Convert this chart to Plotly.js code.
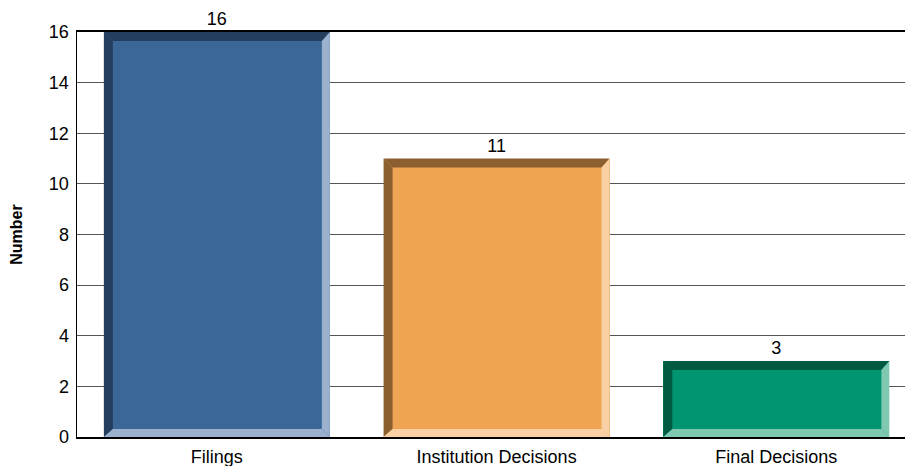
<!DOCTYPE html>
<html>
<head>
<meta charset="utf-8">
<script src="https://cdn.plot.ly/plotly-3.0.1.min.js"></script>
<style>html,body{margin:0;padding:0;background:#fff;}#chart{width:905px;height:466px;}</style>
</head>
<body>
<div id="chart"></div>
<script>
const categories = ["Filings", "Institution Decisions", "Final Decisions"];
const values = [16, 11, 3];
const faceColors = ["#3B6797", "#EFA453", "#009471"];
const darkColors = ["#243E5E", "#8C5F30", "#005A42"];
const lightColors = ["#9BB1CD", "#F9D0A3", "#7FC9B2"];
const yTicks = [0, 2, 4, 6, 8, 10, 12, 14, 16];

const W = 905, H = 466;
const margin = {l: 77, r: 0, t: 32, b: 29};
const xRange = [-0.5, 2.46];
const yRange = [0, 16];
const barWidth = 0.808;

// bevel sizes in pixels, converted to data units
const pxX = (xRange[1] - xRange[0]) / (W - margin.l - margin.r);
const pxY = (yRange[1] - yRange[0]) / (H - margin.t - margin.b);
const bl = 9 * pxX, br = 8 * pxX, bt = 9 * pxY, bb = 8 * pxY;

const shapes = [];
values.forEach((v, i) => {
  const x0 = i - barWidth / 2, x1 = i + barWidth / 2;
  const poly = (pts, color) => shapes.push({
    type: "path", xref: "x", yref: "y", layer: "above",
    path: "M" + pts.map(p => p[0] + "," + p[1]).join(" L") + " Z",
    fillcolor: color, line: {width: 0}
  });
  poly([[x0, v], [x1, v], [x1 - br, v - bt], [x0 + bl, v - bt]], darkColors[i]);
  poly([[x0, v], [x0 + bl, v - bt], [x0 + bl, bb], [x0, 0]], darkColors[i]);
  poly([[x1, v], [x1, 0], [x1 - br, bb], [x1 - br, v - bt]], lightColors[i]);
  poly([[x0, 0], [x1, 0], [x1 - br, bb], [x0 + bl, bb]], lightColors[i]);
});

const trace = {
  type: "bar",
  x: categories,
  y: values,
  width: barWidth,
  marker: {color: faceColors, line: {width: 0}},
  text: values.map(String),
  textposition: "outside",
  textfont: {family: "Liberation Sans, Arial, sans-serif", size: 18, color: "#000"},
  cliponaxis: false,
  hoverinfo: "x+y"
};

const layout = {
  width: W, height: H,
  margin: margin,
  paper_bgcolor: "#fff",
  plot_bgcolor: "#fff",
  font: {family: "Liberation Sans, Arial, sans-serif", size: 18, color: "#000"},
  showlegend: false,
  bargap: 0,
  xaxis: {
    type: "category",
    range: xRange,
    showgrid: false,
    showline: true, linecolor: "#000", linewidth: 2, mirror: true,
    ticks: "", tickfont: {size: 18},
    ticklabelstandoff: 2,
    fixedrange: true
  },
  yaxis: {
    range: yRange,
    tickvals: yTicks,
    showgrid: true, gridcolor: "#555", gridwidth: 1,
    showline: true, linecolor: "#000", linewidth: 1.5,
    zeroline: false,
    ticks: "", tickfont: {size: 18},
    ticklabelstandoff: 3,
    title: {text: "<b>Number</b>", font: {size: 16}, standoff: 22},
    fixedrange: true
  },
  shapes: shapes
};

Plotly.newPlot("chart", [trace], layout, {displayModeBar: false, staticPlot: true});
</script>
</body>
</html>
